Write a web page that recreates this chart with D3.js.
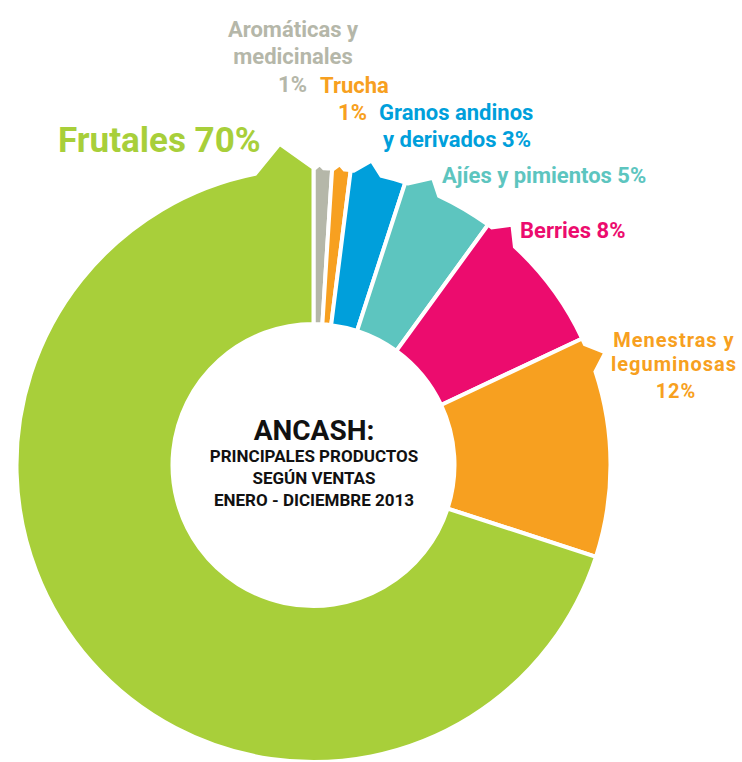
<!DOCTYPE html>
<html><head><meta charset="utf-8">
<script src="https://cdn.jsdelivr.net/npm/d3@7"></script>
<style>
html,body{margin:0;padding:0;background:#fff;}
svg{display:block;}
text{font-family:"Roboto","Liberation Sans",sans-serif;font-weight:bold;}
</style></head>
<body>
<svg id="chart" width="742" height="762"></svg>
<script>
// ---- data ----
const categories = ["Aromáticas y medicinales","Trucha","Granos andinos y derivados","Ajíes y pimientos","Berries","Menestras y leguminosas","Frutales"];
const values = [1, 1, 3, 5, 8, 12, 70];
const colors = ["#B5B7A9","#F7A020","#009FDB","#5DC5BF","#EC0C6E","#F7A020","#A8CF3A"];
const labelLines = [
  ["Aromáticas y","medicinales","1%"],
  ["Trucha","1%"],
  ["Granos andinos","y derivados 3%"],
  ["Ajíes y pimientos 5%"],
  ["Berries 8%"],
  ["Menestras y","leguminosas","12%"],
  ["Frutales 70%"]
];
const titleLines = ["ANCASH:","PRINCIPALES PRODUCTOS","SEGÚN VENTAS","ENERO - DICIEMBRE 2013"];

// ---- layout ----
const cx = 313.5, cy = 465, r0 = 141, r1 = 297;
const svg = d3.select("#chart");
const g = svg.append("g").attr("transform", `translate(${cx},${cy})`);

const pie = d3.pie().sort(null).value(d => d)
  .startAngle(0).endAngle(2*Math.PI);
const arcs = pie(values);

const deg = Math.PI/180;
// decorative tab shapes: offsets from slice edge (deg) and height (px)
const tabs = [
  {side:"start", a:0.3, p:1.2, e:2.0, h:4},
  {side:"start", a:0.3, p:1.4, e:2.4, h:5},
  {side:"start", a:0.6, p:3.6, e:6.0, h:13},
  {side:"start", a:0.6, p:4.6, e:7.0, h:14},
  {side:"start", a:0.9, p:3.6, e:6.7, h:15},
  {side:"start", a:1.2, p:4.1, e:6.9, h:16},
  {side:"end",   a:0.0, p:6.0, e:11.3, h:26}
];
const pt = (ang, r) => [r*Math.sin(ang), -r*Math.cos(ang)];

function slicePath(d, t){
  const p = d3.path();
  const a0 = d.startAngle, a1 = d.endAngle;
  const ca = a => a - Math.PI/2;
  let q = pt(a0, r0); p.moveTo(q[0], q[1]);
  q = pt(a0, r1); p.lineTo(q[0], q[1]);
  if (t.side === "start") {
    const s = a0 + t.a*deg, pk = a0 + t.p*deg, e = a0 + t.e*deg;
    p.arc(0,0,r1, ca(a0), ca(s), false);
    q = pt(pk, r1 + t.h); p.lineTo(q[0], q[1]);
    q = pt(e, r1); p.lineTo(q[0], q[1]);
    p.arc(0,0,r1, ca(e), ca(a1), false);
  } else {
    const e = a1 - t.e*deg, pk = a1 - t.p*deg;
    p.arc(0,0,r1, ca(a0), ca(e), false);
    q = pt(pk, r1 + t.h); p.lineTo(q[0], q[1]);
    q = pt(a1, r1); p.lineTo(q[0], q[1]);
  }
  q = pt(a1, r0); p.lineTo(q[0], q[1]);
  p.arc(0,0,r0, ca(a1), ca(a0), true);
  p.closePath();
  return p.toString();
}

g.selectAll("path.slice").data(arcs).join("path")
  .attr("class","slice")
  .attr("d", (d,i) => slicePath(d, tabs[i]))
  .attr("fill", (d,i) => colors[i])
  .attr("stroke", "#fff")
  .attr("stroke-width", 4)
  .attr("stroke-linejoin", "miter");

// ---- labels ----
const labelPos = [
  {x:[293,293,307], y:[37,64,92], anchor:["middle","middle","end"], size:22, ls:0},
  {x:[320,367], y:[93,120], anchor:["start","end"], size:22, ls:0},
  {x:[379,383], y:[120,147], anchor:["start","start"], size:22, ls:0},
  {x:[442], y:[183], anchor:["start"], size:22, ls:0},
  {x:[520], y:[238], anchor:["start"], size:22, ls:0},
  {x:[674,674,676], y:[347,371,398], anchor:["middle","middle","middle"], size:20, ls:1},
  {x:[58], y:[152], anchor:["start"], size:35, ls:0}
];
labelLines.forEach((lines, i) => {
  const lp = labelPos[i];
  lines.forEach((txt, j) => {
    svg.append("text")
      .attr("x", lp.x[j]).attr("y", lp.y[j])
      .attr("text-anchor", lp.anchor[j])
      .attr("font-size", lp.size)
      .attr("letter-spacing", lp.ls)
      .attr("fill", colors[i])
      .text(txt);
  });
});

// ---- center title ----
const titleY = [440, 462, 484, 506];
const titleSize = [28, 17, 17, 17];
titleLines.forEach((t, i) => {
  svg.append("text")
    .attr("x", 314).attr("y", titleY[i])
    .attr("text-anchor", "middle")
    .attr("font-size", titleSize[i])
    .attr("fill", "#111")
    .text(t);
});
</script>
</body></html>
